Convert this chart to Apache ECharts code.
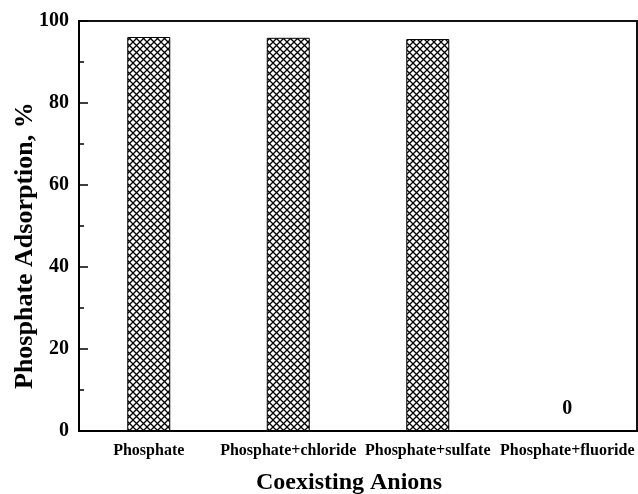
<!DOCTYPE html>
<html>
<head>
<meta charset="utf-8">
<script src="https://cdn.jsdelivr.net/npm/echarts@6/dist/echarts.min.js"></script>
<style>html,body{margin:0;padding:0;background:#fff;}#c{width:638px;height:494px;}</style>
</head>
<body>
<div id="c"></div>
<script>
const categories = ['Phosphate', 'Phosphate+chloride', 'Phosphate+sulfate', 'Phosphate+fluoride'];
const adsorption = [96.1, 95.9, 95.6, 0];
const yTicks = [0, 20, 40, 60, 80, 100];
const xTitle = 'Coexisting Anions';
const yTitle = 'Phosphate Adsorption, %';

function hatch() {
  const s = 7;
  const c = document.createElement('canvas');
  c.width = s; c.height = s;
  const g = c.getContext('2d');
  g.fillStyle = '#fff';
  g.fillRect(0, 0, s, s);
  g.strokeStyle = '#000';
  g.lineWidth = 1.3;
  g.beginPath();
  g.moveTo(0, 0); g.lineTo(s, s);
  g.moveTo(s, 0); g.lineTo(0, s);
  g.stroke();
  return c;
}

const font = 'Liberation Serif';
const chart = echarts.init(document.getElementById('c'), null, {renderer: 'canvas'});
chart.setOption({
  backgroundColor: '#fff',
  animation: false,
  grid: {left: 79, right: 1, top: 21, bottom: 63, show: true, borderColor: '#111', borderWidth: 2, containLabel: false, outerBoundsMode: 'none'},
  graphic: [
    {type: 'text', left: 256, top: 471, style: {text: xTitle, fontFamily: font, fontWeight: 'bold', fontSize: 24, fill: '#000'}},
    {type: 'text', rotation: Math.PI / 2, x: 12, y: 389, style: {text: yTitle, fontFamily: font, fontWeight: 'bold', fontSize: 26, fill: '#000', align: 'left', verticalAlign: 'top'}}
  ],
  xAxis: {
    type: 'category',
    data: categories,
    axisLine: {lineStyle: {color: '#000', width: 2}},
    axisTick: {inside: true, alignWithLabel: true, length: 8, lineStyle: {color: '#000', width: 1.5}},
    axisLabel: {interval: 0, margin: 12, fontFamily: font, fontWeight: 'bold', fontSize: 16, color: '#000'}
  },
  yAxis: {
    type: 'value',
    min: yTicks[0],
    max: yTicks[yTicks.length - 1],
    interval: 20,
    axisLine: {show: true, lineStyle: {color: '#000', width: 2}},
    axisTick: {show: true, inside: true, length: 9, lineStyle: {color: '#000', width: 1.5}},
    minorTick: {show: true, splitNumber: 2, length: 5, lineStyle: {color: '#000', width: 1.5}},
    splitLine: {show: false},
    axisLabel: {margin: 10, fontFamily: font, fontWeight: 'bold', fontSize: 20, color: '#000'}
  },
  series: [{
    type: 'bar',
    data: adsorption.map(v => ({
      value: v,
      label: {show: v === 0}
    })),
    barWidth: 43,
    itemStyle: {color: {image: hatch(), repeat: 'repeat'}, borderColor: '#000', borderWidth: 1},
    label: {position: 'top', distance: 12, fontFamily: font, fontWeight: 'bold', fontSize: 20, color: '#000', formatter: '{c}'}
  }]
});
</script>
</body>
</html>
